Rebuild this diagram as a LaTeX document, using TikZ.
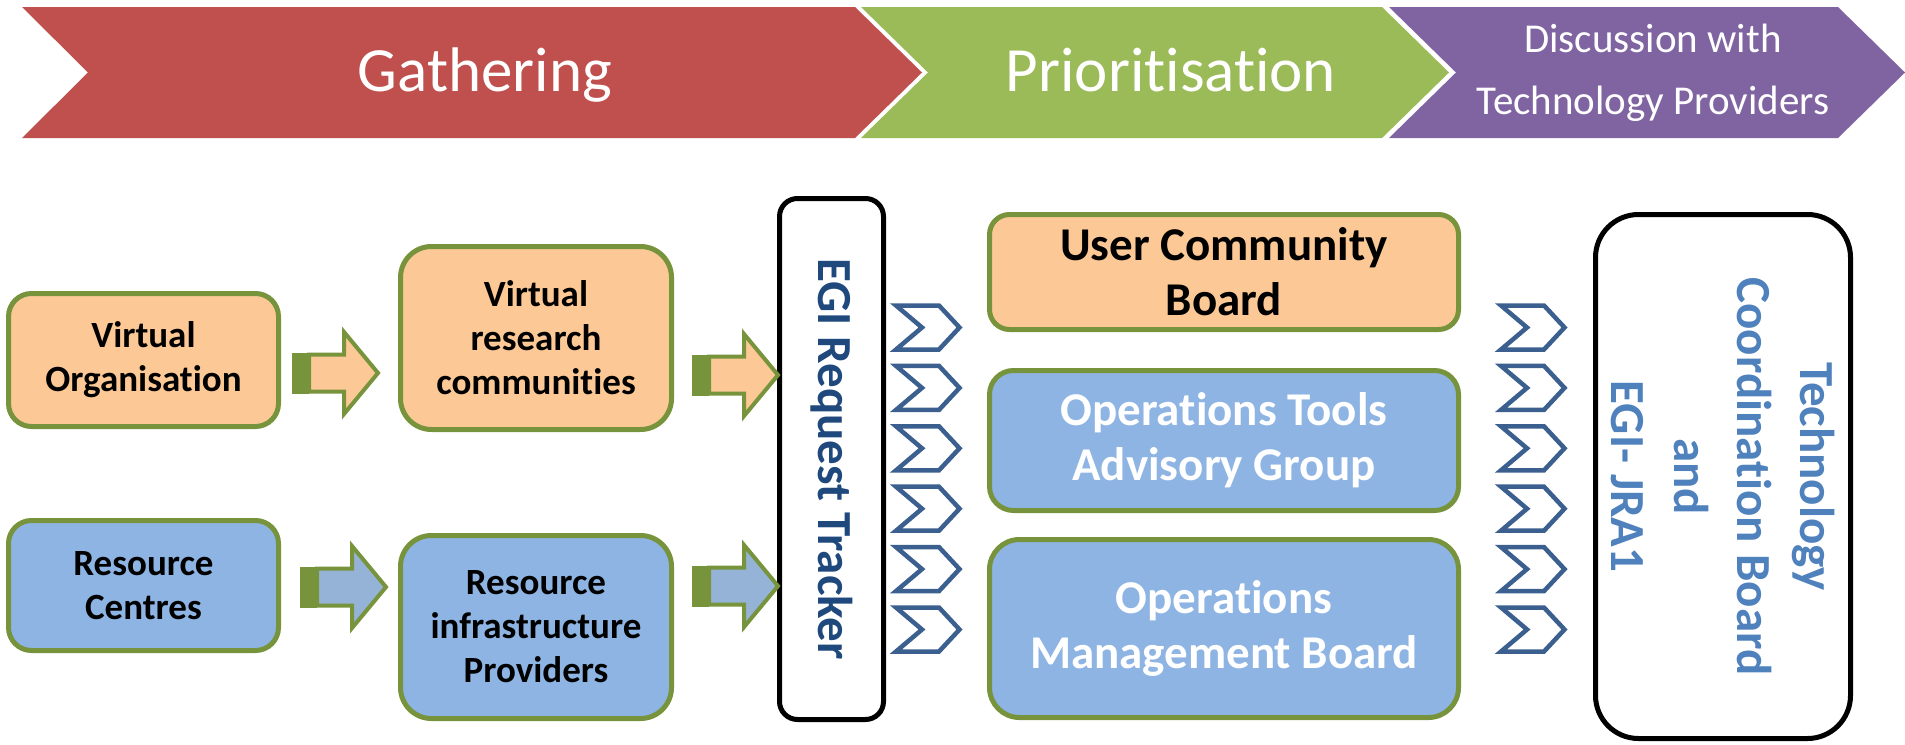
\documentclass[tikz,border=0pt]{standalone}
\usepackage{fontspec}
\setmainfont{Carlito}[Ligatures={TeX,NoCommon}]
\usepackage{tikz}
\usetikzlibrary{calc}

\definecolor{bandred}{HTML}{C0504D}
\definecolor{bandgreen}{HTML}{9BBB59}
\definecolor{bandpurple}{HTML}{8064A2}
\definecolor{peach}{HTML}{FCC996}
\definecolor{skyblue}{HTML}{8EB4E3}
\definecolor{arrowblue}{HTML}{95B3D7}
\definecolor{boxgreen}{HTML}{77933C}
\definecolor{chevblue}{HTML}{3B5F8F}
\definecolor{trackerblue}{HTML}{1F497D}
\definecolor{tcbblue}{HTML}{4F81BD}

\begin{document}
\begin{tikzpicture}[x=1pt,y=-1pt,
	band text/.style={text=white, inner sep=0pt},
	box/.style={draw=boxgreen, line width=5pt, align=center, inner sep=0pt},
	small box/.style={box, font=\bfseries\fontsize{37}{44}\selectfont},
	board box/.style={box, minimum width=469, font=\bfseries\fontsize{47}{55}\selectfont},
	black box/.style={draw=black, line width=5pt, align=center, inner sep=0pt, rotate=-90,
		font=\bfseries\fontsize{49}{63}\selectfont},
	pics/block arrow/.style={code={
		\fill[boxgreen] (0,-20.5) rectangle (17,20.5);
		\draw[boxgreen, line width=4pt, fill=#1] (17,-18.5) -- (52,-18.5) -- (52,-41) -- (86,0)
			-- (52,41) -- (52,18.5) -- (17,18.5) -- cycle;}},
	pics/flow mark/.style={code={
		\draw[chevblue, line width=4.5pt] (3,2.5) -- (46,2.5) -- (66.5,24.5) -- (46,46.5) -- (3,46.5)
			-- (29,24.5) -- cycle;}}]
	
	\useasboundingbox (0,0) rectangle (1905,744);
	
	\fill[bandred] (22,7) -- (855,7) -- (922,72.5) -- (855,138) -- (22,138) -- (88,72.5) -- cycle;
	\fill[bandgreen] (861,7) -- (1382,7) -- (1449,72.5) -- (1382,138) -- (861,138) -- (928,72.5) -- cycle;
	\fill[bandpurple] (1389,7) -- (1838,7) -- (1905,72.5) -- (1838,138) -- (1389,138) -- (1456,72.5) -- cycle;
	
	\node[band text, font=\fontsize{63}{75}\selectfont, anchor=base] (gathering) at (485,91) {Gathering};
	\node[band text, font=\fontsize{63}{75}\selectfont, anchor=base] (prioritisation) at (1171,91) {Prioritisation};
	\node[band text, font=\fontsize{41}{62}\selectfont, align=center] (discussion) at (1653,73)
		{Discussion with\\Technology Providers};
	
	\node[small box, fill=peach, minimum width=270, minimum height=133, rounded corners=23] (vo) at (143.5,360)
		{Virtual\\Organisation};
	\node[small box, fill=peach, minimum width=271, minimum height=183, rounded corners=31] (vrc) at (536,338)
		{Virtual\\research\\communities};
	\node[small box, fill=skyblue, minimum width=270, minimum height=130, rounded corners=23] (rc) at (143.5,585.5)
		{Resource\\Centres};
	\node[small box, fill=skyblue, minimum width=271, minimum height=183, rounded corners=31] (rip) at (536,627)
		{Resource\\infrastructure\\Providers};
	
	\node[black box, text=trackerblue, minimum width=521, minimum height=104, rounded corners=18] (tracker)
		at (831.5,459) {EGI Request Tracker};
	
	\node[board box, fill=peach, minimum height=115, rounded corners=20] (ucb) at (1224,272)
		{User Community\\Board};
	\node[board box, fill=skyblue, text=white, minimum height=140, rounded corners=24] (otag) at (1224,440.5)
		{Operations Tools\\Advisory Group};
	\node[board box, fill=skyblue, text=white, minimum height=178, rounded corners=30] (omb) at (1224,628.5)
		{Operations\\Management Board};
	
	\node[black box, text=tcbblue, minimum width=524, minimum height=255, rounded corners=43] (tcb)
		at (1723,476.5) {Technology\\Coordination Board\\and\\EGI- JRA1};
	
	\pic at ([shift={(11,13)}]vo.east) {block arrow=peach};
	\pic at ([shift={(18,37)}]vrc.east) {block arrow=peach};
	\pic at ([shift={(19,1.5)}]rc.east) {block arrow=arrowblue};
	\pic at ([shift={(18,-41)}]rip.east) {block arrow=arrowblue};
	
	\foreach \k in {0,...,5} {
		\pic at (893,{303+60.4*\k}) {flow mark};
		\pic at (1498,{303+60.4*\k}) {flow mark};
	}
\end{tikzpicture}
\end{document}
